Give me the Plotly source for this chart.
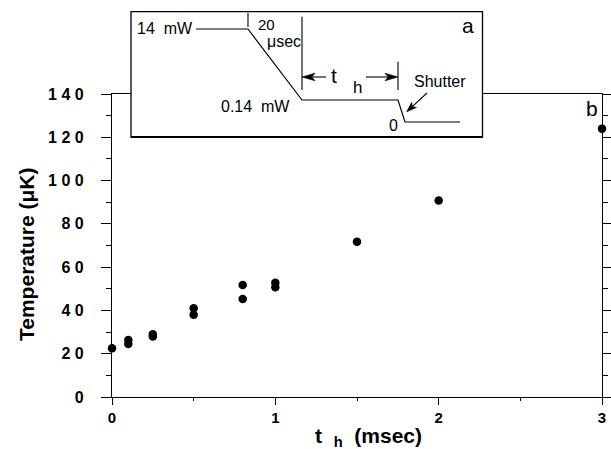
import math
import plotly.graph_objects as go

# ---- data ----
t_h_msec = [0, 0.1, 0.1, 0.25, 0.25, 0.5, 0.5, 0.8, 0.8, 1.0, 1.0, 1.5, 2.0, 3.0]
temperature_uK = [22.5, 26.3, 24.5, 29.0, 28.0, 41.0, 38.0, 51.8, 45.3, 52.8, 50.7, 71.7, 90.8, 124.0]
y_tick_vals = [0, 20, 40, 60, 80, 100, 120, 140]
y_tick_text = ["0", "2 0", "4 0", "6 0", "8 0", "1 0 0", "1 2 0", "1 4 0"]
x_tick_vals = [0, 1, 2, 3]
x_tick_text = ["0", "1", "2", "3"]

W, H = 611, 449
L, R, T, B = 112, 9, 94, 52
PW, PH = W - L - R, H - T - B
FONT = "Liberation Sans, Arial, Helvetica, sans-serif"


def px(x):
    return (x - L) / PW


def py(y):
    return (H - B - y) / PH


fig = go.Figure()
fig.add_trace(go.Scatter(
    x=t_h_msec, y=temperature_uK, mode="markers",
    marker=dict(size=8.5, color="black"), cliponaxis=False, showlegend=False,
))

shapes = []


def pline(points, width=1.2, fill=None):
    path = "M " + " L ".join(f"{px(a):.5f},{py(b):.5f}" for a, b in points)
    d = dict(type="path", xref="paper", yref="paper", layer="above",
             line=dict(color="black", width=width))
    if fill:
        path += " Z"
        d["fillcolor"] = fill
        d["line"] = dict(color="black", width=0.6)
    d["path"] = path
    shapes.append(d)


def arrow(tip, tail, head=13, half=3.8):
    dx, dy = tail[0] - tip[0], tail[1] - tip[1]
    n = math.hypot(dx, dy)
    ux, uy = dx / n, dy / n
    vx, vy = -uy, ux
    bx, by = tip[0] + head * ux, tip[1] + head * uy
    nx, ny = tip[0] + 0.75 * head * ux, tip[1] + 0.75 * head * uy
    pline([(nx, ny), tail], width=1.1)
    pline([tip, (bx + half * vx, by + half * vy), (nx, ny),
           (bx - half * vx, by - half * vy)], fill="black")


# inset box
shapes.append(dict(type="rect", xref="paper", yref="paper",
                   x0=px(131), x1=px(482.5), y0=py(137), y1=py(11.7),
                   fillcolor="white", line=dict(color="black", width=1.3), layer="above"))
shapes.append(dict(type="line", xref="paper", yref="paper",
                   x0=px(131), x1=px(482.5), y0=py(137), y1=py(137),
                   line=dict(color="black", width=2.2), layer="above"))
# waveform
pline([(196, 29), (248, 29), (302, 100), (398, 100), (405, 122), (460, 122)])
for (xa, ya, yb) in [(248, 13, 27), (302, 16.7, 90), (398, 61.7, 90)]:
    pline([(xa, ya), (xa, yb)], width=1.1)
arrow((302, 77), (326, 77))
arrow((398, 77), (366, 77))
arrow((406.7, 111.7), (427, 93), head=10, half=3.5)

ann = []


def txt(s, x, y, size=16, xanchor="center", bold=False, angle=0):
    ann.append(dict(text=s, xref="paper", yref="paper", x=px(x), y=py(y),
                    xanchor=xanchor, yanchor="middle", showarrow=False, textangle=angle,
                    font=dict(family=FONT, size=size, color="black",
                              weight="bold" if bold else "normal")))


txt("14\u00a0\u00a0mW", 195, 29, xanchor="right")
txt("20", 256, 24, xanchor="left", size=15)
txt("\u03bcsec", 265, 42, xanchor="left")
txt("0.14\u00a0\u00a0mW", 292, 106, xanchor="right")
txt("t", 334, 75, size=21)
txt("h", 357, 87, size=17)
txt("Shutter", 440, 82)
txt("0", 393, 125)
txt("a", 468, 25, size=21)
txt("b", 592, 108, size=21)
# axis titles
txt("t\u00a0\u00a0<sub>h</sub>\u00a0\u00a0(msec)", 368, 437, size=21, bold=True)
txt("Temperature (\u03bcK)", 27, 254, size=21, bold=True, angle=-90)

fig.update_layout(
    width=W, height=H,
    margin=dict(l=L, r=R, t=T, b=B),
    paper_bgcolor="white", plot_bgcolor="white",
    shapes=shapes, annotations=ann,
    font=dict(family=FONT, color="black"),
)
fig.update_xaxes(
    range=[0, 3], tickvals=x_tick_vals, ticktext=x_tick_text, automargin=False,
    ticks="outside", ticklen=7, tickwidth=1.3, tickcolor="black",
    minor=dict(dtick=0.5, ticklen=3, tickwidth=1.2, ticks="outside", tickcolor="black"),
    showline=True, linecolor="black", linewidth=1.3, mirror=True,
    showgrid=False, zeroline=False,
    tickfont=dict(family=FONT, size=15, color="black", weight="bold"),
)
fig.update_yaxes(
    range=[0, 140], tickvals=y_tick_vals, ticktext=y_tick_text, automargin=False,
    ticks="outside", ticklen=10, tickwidth=1.3, tickcolor="black",
    minor=dict(dtick=10, ticklen=5, tickwidth=1.2, ticks="outside", tickcolor="black"),
    showline=True, linecolor="black", linewidth=1.3, mirror="ticks",
    showgrid=False, zeroline=False, ticklabelstandoff=14,
    tickfont=dict(family=FONT, size=16, color="black", weight="bold"),
)

fig.write_html("out.html")
